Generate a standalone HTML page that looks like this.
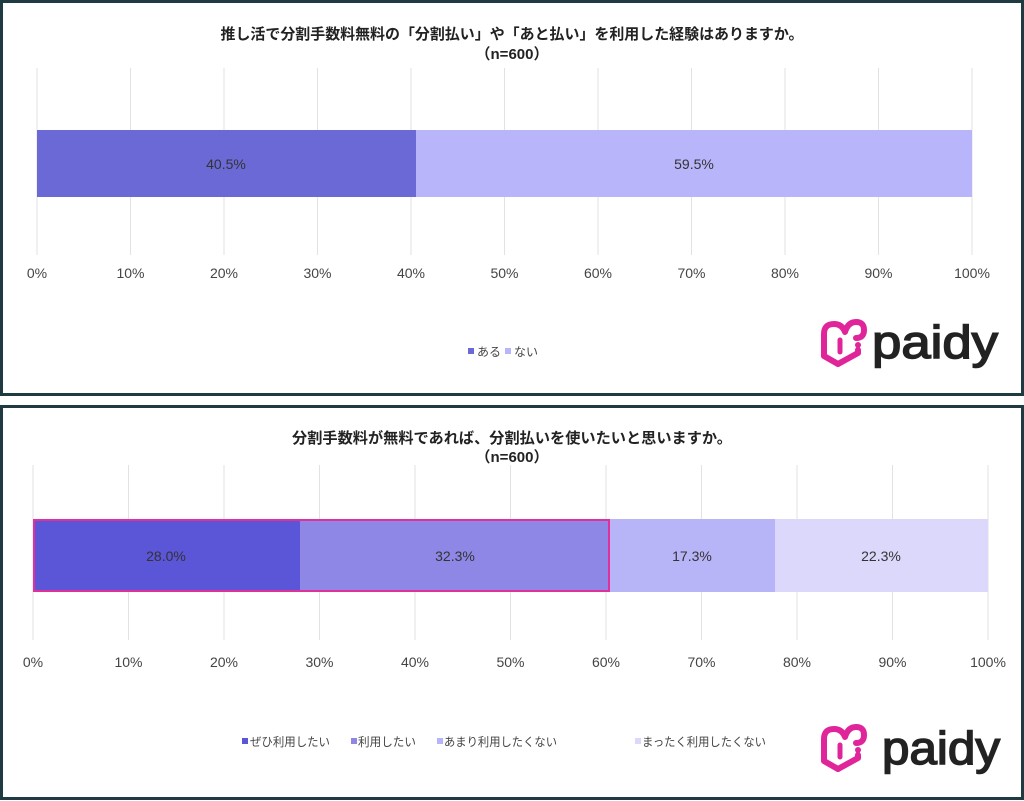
<!DOCTYPE html>
<html><head><meta charset="utf-8"><style>
html,body{margin:0;padding:0;background:#fff;}
svg{display:block;}
text{font-family:"Liberation Sans","Noto Sans CJK JP",sans-serif;}
</style></head><body>
<svg width="1024" height="801" viewBox="0 0 1024 801" xmlns="http://www.w3.org/2000/svg">
<rect width="1024" height="801" fill="#fff"/>
<rect x="1.5" y="1.5" width="1021" height="393" fill="none" stroke="#1f3a40" stroke-width="3"/>
<rect x="1.5" y="406.5" width="1021" height="392" fill="none" stroke="#1f3a40" stroke-width="3"/>

<!-- Chart 1 -->
<text x="512" y="39" text-anchor="middle" font-size="15" font-weight="bold" fill="#222" textLength="583" lengthAdjust="spacingAndGlyphs">推し活で分割手数料無料の「分割払い」や「あと払い」を利用した経験はありますか。</text>
<text x="512" y="59" text-anchor="middle" font-size="15" font-weight="bold" fill="#222">（n=600）</text>
<g stroke="#e2e2e2" stroke-width="1">
<line x1="37" y1="68" x2="37" y2="255"/><line x1="130.5" y1="68" x2="130.5" y2="255"/><line x1="224" y1="68" x2="224" y2="255"/><line x1="317.5" y1="68" x2="317.5" y2="255"/><line x1="411" y1="68" x2="411" y2="255"/><line x1="504.5" y1="68" x2="504.5" y2="255"/><line x1="598" y1="68" x2="598" y2="255"/><line x1="691.5" y1="68" x2="691.5" y2="255"/><line x1="785" y1="68" x2="785" y2="255"/><line x1="878.5" y1="68" x2="878.5" y2="255"/><line x1="972" y1="68" x2="972" y2="255"/>
</g>
<rect x="37" y="130" width="379" height="67" fill="#6b69d6"/>
<rect x="416" y="130" width="556" height="67" fill="#b8b5fb"/>
<text x="226" y="169" text-anchor="middle" font-size="14" fill="#333">40.5%</text>
<text x="694" y="169" text-anchor="middle" font-size="14" fill="#333">59.5%</text>
<g font-size="14" fill="#444" text-anchor="middle">
<text x="37" y="278">0%</text><text x="130.5" y="278">10%</text><text x="224" y="278">20%</text><text x="317.5" y="278">30%</text><text x="411" y="278">40%</text><text x="504.5" y="278">50%</text><text x="598" y="278">60%</text><text x="691.5" y="278">70%</text><text x="785" y="278">80%</text><text x="878.5" y="278">90%</text><text x="972" y="278">100%</text>
</g>
<rect x="468" y="348" width="6" height="6" fill="#6b69d6"/>
<text x="477" y="356" font-size="12" fill="#444">ある</text>
<rect x="505" y="348" width="6" height="6" fill="#b8b5fb"/>
<text x="514" y="356" font-size="12" fill="#444">ない</text>

<g transform="translate(818,318)">
<path d="M20 46 L6 38 L6 16 Q6 6 16 6 Q24 6 27 14 Q30 4 38 4 Q46 4 46 12 Q46 20 38 20" fill="none" stroke="#e0249a" stroke-width="6" stroke-linejoin="round" stroke-linecap="round"/>
<path d="M20 46 L40 35 L40 32" fill="none" stroke="#e0249a" stroke-width="6" stroke-linejoin="round" stroke-linecap="round"/>
<line x1="22" y1="22" x2="22" y2="34" stroke="#e0249a" stroke-width="5" stroke-linecap="round"/>
<circle cx="40" cy="27" r="3" fill="#e0249a"/>
</g>
<text x="872" y="358" font-size="46" fill="#222" stroke="#222" stroke-width="1.5" textLength="126" lengthAdjust="spacingAndGlyphs">paidy</text>

<!-- Chart 2 -->
<text x="512" y="443" text-anchor="middle" font-size="15" font-weight="bold" fill="#222" textLength="440" lengthAdjust="spacingAndGlyphs">分割手数料が無料であれば、分割払いを使いたいと思いますか。</text>
<text x="512" y="462" text-anchor="middle" font-size="15" font-weight="bold" fill="#222">（n=600）</text>
<g stroke="#e2e2e2" stroke-width="1">
<line x1="33" y1="465" x2="33" y2="640"/><line x1="128.5" y1="465" x2="128.5" y2="640"/><line x1="224" y1="465" x2="224" y2="640"/><line x1="319.5" y1="465" x2="319.5" y2="640"/><line x1="415" y1="465" x2="415" y2="640"/><line x1="510.5" y1="465" x2="510.5" y2="640"/><line x1="606" y1="465" x2="606" y2="640"/><line x1="701.5" y1="465" x2="701.5" y2="640"/><line x1="797" y1="465" x2="797" y2="640"/><line x1="892.5" y1="465" x2="892.5" y2="640"/><line x1="988" y1="465" x2="988" y2="640"/>
</g>
<rect x="33" y="519" width="267" height="73" fill="#5b55d8"/>
<rect x="300" y="519" width="310" height="73" fill="#8e87e6"/>
<rect x="610" y="519" width="165" height="73" fill="#b8b4f8"/>
<rect x="775" y="519" width="213" height="73" fill="#dcd8fb"/>
<rect x="34" y="520" width="575" height="71" fill="none" stroke="#e0309a" stroke-width="2"/>
<g font-size="14" fill="#333" text-anchor="middle">
<text x="166" y="561">28.0%</text><text x="455" y="561">32.3%</text><text x="692" y="561">17.3%</text><text x="881" y="561">22.3%</text>
</g>
<g font-size="14" fill="#444" text-anchor="middle">
<text x="33" y="667">0%</text><text x="128.5" y="667">10%</text><text x="224" y="667">20%</text><text x="319.5" y="667">30%</text><text x="415" y="667">40%</text><text x="510.5" y="667">50%</text><text x="606" y="667">60%</text><text x="701.5" y="667">70%</text><text x="797" y="667">80%</text><text x="892.5" y="667">90%</text><text x="988" y="667">100%</text>
</g>
<g font-size="12" fill="#444">
<rect x="242" y="738" width="6" height="6" fill="#5b55d8"/><text x="250" y="746" textLength="80" lengthAdjust="spacingAndGlyphs">ぜひ利用したい</text>
<rect x="351" y="738" width="6" height="6" fill="#8e87e6"/><text x="358" y="746" textLength="58" lengthAdjust="spacingAndGlyphs">利用したい</text>
<rect x="437" y="738" width="6" height="6" fill="#b8b4f8"/><text x="444" y="746" textLength="113" lengthAdjust="spacingAndGlyphs">あまり利用したくない</text>
<rect x="635" y="738" width="6" height="6" fill="#dcd8fb"/><text x="642" y="746" textLength="124" lengthAdjust="spacingAndGlyphs">まったく利用したくない</text>
</g>

<g transform="translate(818,723)">
<path d="M20 46 L6 38 L6 16 Q6 6 16 6 Q24 6 27 14 Q30 4 38 4 Q46 4 46 12 Q46 20 38 20" fill="none" stroke="#e0249a" stroke-width="6" stroke-linejoin="round" stroke-linecap="round"/>
<path d="M20 46 L40 35 L40 32" fill="none" stroke="#e0249a" stroke-width="6" stroke-linejoin="round" stroke-linecap="round"/>
<line x1="22" y1="22" x2="22" y2="34" stroke="#e0249a" stroke-width="5" stroke-linecap="round"/>
<circle cx="40" cy="27" r="3" fill="#e0249a"/>
</g>
<text x="882" y="764" font-size="46" fill="#222" stroke="#222" stroke-width="1.5" textLength="118" lengthAdjust="spacingAndGlyphs">paidy</text>
</svg>
</body></html>
